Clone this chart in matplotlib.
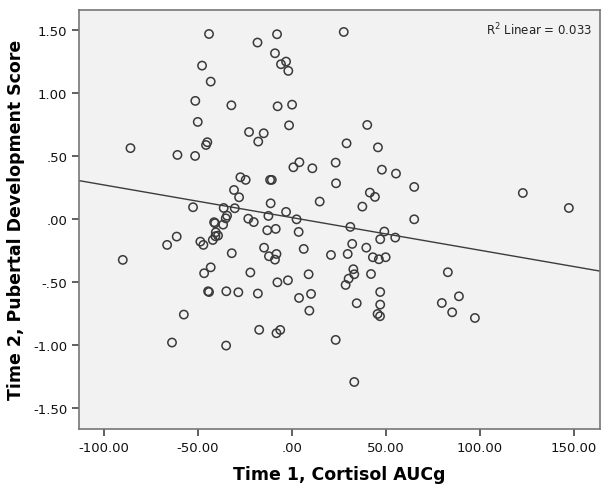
import numpy as np
import matplotlib
matplotlib.use("Agg")
import matplotlib.pyplot as plt

# Time 1 cortisol AUCg (x) vs Time 2 pubertal development score (y)
cortisol_auc = [
    -44.0, -18.2, -47.7, -43.1, -51.3, -32.1, -50.0, -22.7, -17.8, -44.9,
    -45.6, -85.8, -7.8, 27.7, -8.9, -5.7, -3.0, -1.8, -7.5, 0.2,
    -1.4, 40.2, -14.9, 29.2, 45.9, 123.0, 147.5, 83.1, -60.8, -51.4,
    -27.3, -24.5, -30.7, -28.0, -52.5, -36.2, -30.3, -34.4, -35.1, -23.1,
    -20.2, -41.3, -40.8, -36.5, -40.4, -39.2, -40.6, -42.0, -61.2, -66.3,
    -48.6, -47.0, -31.9, -89.9, -43.1, -46.6, -22.0, -44.5, -44.0, -34.8,
    -28.4, -18.0, -57.4, -63.7, -34.9, -17.3, 4.1, 0.9, 11.0, 23.4,
    48.0, 55.5, 65.2, -11.5, -10.6, 23.6, 41.6, 44.3, -11.2, 14.9,
    37.6, 65.2, -3.0, -12.4, 2.6, 31.2, 49.3, 47.1, 55.1, -13.0,
    -8.5, 3.7, 32.2, -14.7, 6.4, 39.7, 20.9, 29.8, -12.1, -8.1,
    -8.9, 43.2, 46.4, 50.0, 9.0, 32.8, 33.3, 30.3, 28.7, 42.2,
    -7.6, -2.0, 47.1, 3.9, 10.3, 9.4, 34.6, 47.1, 45.7, 47.0,
    -8.1, -6.1, 23.4, 33.3, 89.0, 79.9, 85.4, 97.5,
]
pubertal_score = [
    1.468, 1.400, 1.217, 1.090, 0.937, 0.902, 0.770, 0.690, 0.614, 0.609,
    0.587, 0.562, 1.466, 1.484, 1.315, 1.228, 1.249, 1.175, 0.894, 0.907,
    0.743, 0.746, 0.680, 0.600, 0.568, 0.206, 0.087, -0.423, 0.508, 0.500,
    0.331, 0.310, 0.230, 0.172, 0.093, 0.087, 0.085, 0.026, 0.005, 0.002,
    -0.025, -0.026, -0.034, -0.045, -0.106, -0.132, -0.137, -0.167, -0.140, -0.206,
    -0.180, -0.206, -0.272, -0.325, -0.384, -0.431, -0.425, -0.574, -0.580, -0.574,
    -0.582, -0.592, -0.759, -0.981, -1.005, -0.880, 0.450, 0.410, 0.402, 0.447,
    0.391, 0.360, 0.254, 0.310, 0.310, 0.283, 0.209, 0.175, 0.124, 0.138,
    0.098, -0.003, 0.056, 0.024, -0.003, -0.063, -0.100, -0.161, -0.148, -0.090,
    -0.079, -0.103, -0.198, -0.228, -0.238, -0.228, -0.286, -0.278, -0.296, -0.278,
    -0.323, -0.304, -0.320, -0.304, -0.439, -0.399, -0.439, -0.474, -0.524, -0.437,
    -0.503, -0.487, -0.580, -0.627, -0.595, -0.728, -0.669, -0.680, -0.754, -0.772,
    -0.907, -0.881, -0.960, -1.294, -0.614, -0.667, -0.741, -0.786,
]

# linear fit line as drawn in the chart
fit_intercept = 0.011
fit_slope = -0.00259
r2_label = "R$^2$ Linear = 0.033"

x_ticks = [-100, -50, 0, 50, 100, 150]
x_tick_labels = ["-100.00", "-50.00", ".00", "50.00", "100.00", "150.00"]
y_ticks = [1.5, 1.0, 0.5, 0.0, -0.5, -1.0, -1.5]
y_tick_labels = ["1.50", "1.00", ".50", ".00", "-.50", "-1.00", "-1.50"]

xlim = (-113.2, 164.0)
ylim = (-1.667, 1.661)

fig = plt.figure(figsize=(6.09, 4.89), dpi=100)
ax = fig.add_axes([0.1297, 0.1207, 0.8553, 0.8575])
ax.set_facecolor("#f2f2f2")

ax.scatter(cortisol_auc, pubertal_score, s=36, facecolors="none",
           edgecolors="#3a3a3a", linewidths=1.1, zorder=3)

line_x = np.array(xlim)
ax.plot(line_x, fit_intercept + fit_slope * line_x, color="#3c3c3c", lw=1.0, zorder=2)

ax.set_xlim(*xlim)
ax.set_ylim(*ylim)
ax.set_xticks(x_ticks)
ax.set_xticklabels(x_tick_labels)
ax.set_yticks(y_ticks)
ax.set_yticklabels(y_tick_labels)
ax.tick_params(direction="out", length=5, width=1.2, color="#444444",
               labelsize=9.5, labelcolor="#111111")
for sp in ax.spines.values():
    sp.set_color("#777777")
    sp.set_linewidth(1.2)

ax.set_xlabel("Time 1, Cortisol AUCg", fontsize=12.5, fontweight="bold", labelpad=8)
ax.set_ylabel("Time 2, Pubertal Development Score", fontsize=12.5, fontweight="bold", labelpad=6)

ax.text(0.985, 0.955, r2_label, transform=ax.transAxes, ha="right", va="center",
        fontsize=8.5, color="#222222")

fig.savefig("out.png", dpi=100, facecolor="white")
